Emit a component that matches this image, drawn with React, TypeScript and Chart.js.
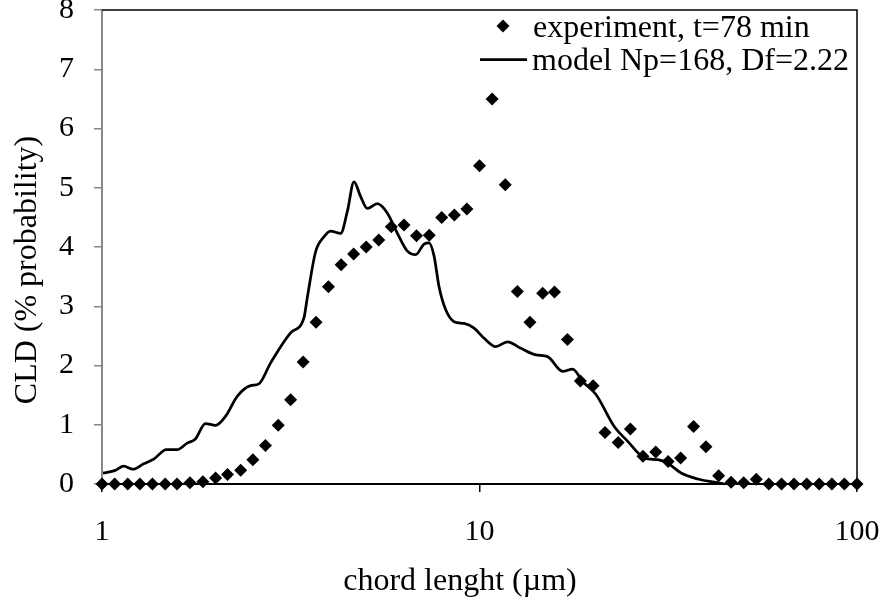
import React, { useEffect, useRef } from "react";
import { Chart, registerables } from "chart.js";

Chart.register(...registerables);

// Experiment (t = 78 min): chord length bins (µm) and CLD (% probability)
const expChord = [
  1.0, 1.08, 1.17, 1.26, 1.36, 1.47, 1.58, 1.71, 1.85, 2.0,
  2.15, 2.33, 2.51, 2.71, 2.93, 3.16, 3.41, 3.69, 3.98, 4.3,
  4.64, 5.01, 5.41, 5.84, 6.31, 6.81, 7.36, 7.94, 8.58, 9.26,
  10.0, 10.8, 11.7, 12.6, 13.6, 14.7, 15.8, 17.1, 18.5, 20.0,
  21.5, 23.3, 25.1, 27.1, 29.3, 31.6, 34.1, 36.9, 39.8, 43.0,
  46.4, 50.1, 54.1, 58.4, 63.1, 68.1, 73.6, 79.4, 85.8, 92.6, 100,
];
const expCLD = [
  0, 0, 0, 0, 0, 0, 0, 0.02, 0.04, 0.1,
  0.16, 0.23, 0.41, 0.65, 0.99, 1.42, 2.06, 2.73, 3.33, 3.7,
  3.88, 4.0, 4.12, 4.34, 4.37, 4.19, 4.2, 4.5, 4.54, 4.64,
  5.37, 6.5, 5.05, 3.25, 2.73, 3.22, 3.24, 2.44, 1.74, 1.66,
  0.87, 0.7, 0.93, 0.47, 0.54, 0.38, 0.44, 0.97, 0.63, 0.14,
  0.03, 0.02, 0.08, 0, 0, 0, 0, 0, 0, 0, 0,
];

// Model (Np = 168, Df = 2.22)
const modelChord = [
  1.006, 1.085, 1.141, 1.208, 1.289, 1.371, 1.481, 1.581, 1.681, 1.768,
  1.879, 1.998, 2.123, 2.281, 2.474, 2.603, 2.795, 3.159, 3.426, 3.499,
  3.68, 3.87, 4.033, 4.287, 4.466, 4.65, 4.844, 5.046, 5.364, 5.702,
  6.061, 6.442, 6.776, 7.131, 7.35, 7.578, 7.813, 8.139, 8.563, 9.102,
  9.676, 10.285, 11.046, 11.866, 12.872, 14.105, 15.15, 16.61, 17.65, 18.76,
  20.35, 22.75, 24.7, 27.33, 29.66, 31.53, 34.2, 37.86, 41.91, 44.56,
];
const modelCLD = [
  0.185, 0.23, 0.3, 0.25, 0.34, 0.42, 0.58, 0.58, 0.69, 0.76,
  1.02, 0.99, 1.14, 1.48, 1.66, 1.69, 2.04, 2.55, 2.8, 3.15,
  3.92, 4.17, 4.27, 4.23, 4.6, 5.1, 4.85, 4.65, 4.73, 4.57,
  4.23, 3.93, 3.87, 4.05, 4.07, 3.85, 3.33, 2.94, 2.74, 2.71,
  2.63, 2.46, 2.32, 2.4, 2.29, 2.18, 2.15, 1.9, 1.94, 1.73,
  1.51, 0.97, 0.72, 0.44, 0.41, 0.35, 0.185, 0.085, 0.03, 0.0,
];

const xTickValues = [1, 10, 100];
const expLabel = "experiment, t=78 min";
const modelLabel = "model Np=168, Df=2.22";
const xTitle = "chord lenght (\u00b5m)";
const yTitle = "CLD (% probability)";

const SERIF = "'Liberation Serif', 'Times New Roman', serif";

export default function App() {
  const canvasRef = useRef<HTMLCanvasElement | null>(null);

  useEffect(() => {
    const canvas = canvasRef.current;
    if (!canvas) return;

    const decorPlugin = {
      id: "decor",
      afterDraw(chart: any) {
        const { ctx, chartArea } = chart;
        ctx.save();
        // top & right frame
        ctx.strokeStyle = "#000";
        ctx.lineWidth = 1.5;
        ctx.beginPath();
        ctx.moveTo(chartArea.left, chartArea.top);
        ctx.lineTo(chartArea.right, chartArea.top);
        ctx.lineTo(chartArea.right, chartArea.bottom);
        ctx.stroke();

        // axis titles
        ctx.fillStyle = "#000";
        ctx.font = `32px ${SERIF}`;
        ctx.textAlign = "center";
        ctx.textBaseline = "alphabetic";
        ctx.fillText(xTitle, 460, 590);
        ctx.save();
        ctx.translate(36, 270);
        ctx.rotate(-Math.PI / 2);
        ctx.fillText(yTitle, 0, 0);
        ctx.restore();

        // legend
        ctx.font = `32px ${SERIF}`;
        ctx.textAlign = "left";
        ctx.fillText(expLabel, 533, 37);
        ctx.fillText(modelLabel, 532, 70);
        const s = 6.5;
        ctx.beginPath();
        ctx.moveTo(503, 26 - s);
        ctx.lineTo(503 + s, 26);
        ctx.lineTo(503, 26 + s);
        ctx.lineTo(503 - s, 26);
        ctx.closePath();
        ctx.fill();
        ctx.lineWidth = 2.75;
        ctx.beginPath();
        ctx.moveTo(480, 59.5);
        ctx.lineTo(527, 59.5);
        ctx.stroke();
        ctx.restore();
      },
    };

    const chart = new Chart(canvas, {
      type: "scatter",
      data: {
        datasets: [
          {
            label: expLabel,
            data: expChord.map((x, i) => ({ x, y: expCLD[i] })),
            pointStyle: "rectRot",
            pointRadius: 6.5,
            pointHoverRadius: 6.5,
            backgroundColor: "#000",
            borderColor: "#000",
            borderWidth: 0,
            showLine: false,
            clip: false,
          },
          {
            type: "line",
            label: modelLabel,
            data: modelChord.map((x, i) => ({ x, y: modelCLD[i] })),
            borderColor: "#000",
            borderWidth: 2.75,
            pointRadius: 0,
            fill: false,
            cubicInterpolationMode: "monotone",
            clip: false,
          },
        ],
      } as any,
      options: {
        responsive: true,
        maintainAspectRatio: false,
        animation: false,
        layout: { padding: { top: 10, right: 28, left: 0, bottom: 0 } },
        plugins: {
          legend: { display: false },
          tooltip: { enabled: false },
        },
        scales: {
          x: {
            type: "logarithmic",
            min: 1,
            max: 100,
            afterBuildTicks: (scale: any) => {
              scale.ticks = xTickValues.map((v) => ({ value: v }));
            },
            afterFit: (scale: any) => {
              scale.height = 119;
              scale.paddingLeft = 0;
              scale.paddingRight = 0;
            },
            ticks: {
              callback: (v: any) => String(v),
              color: "#000",
              font: { family: SERIF, size: 30 },
              padding: 22,
              maxRotation: 0,
              autoSkip: false,
            },
            grid: {
              drawOnChartArea: false,
              drawTicks: true,
              tickLength: 8,
              color: "#000",
              lineWidth: 1.5,
            },
            border: { color: "#000", width: 2 },
          },
          y: {
            type: "linear",
            min: 0,
            max: 8,
            afterFit: (scale: any) => {
              scale.width = 102;
              scale.paddingTop = 0;
              scale.paddingBottom = 0;
            },
            ticks: {
              stepSize: 1,
              color: "#000",
              font: { family: SERIF, size: 30 },
              padding: 20,
            },
            grid: {
              drawOnChartArea: false,
              drawTicks: true,
              tickLength: 8,
              color: "#888",
              lineWidth: 1.5,
            },
            border: { color: "#888", width: 2 },
          },
        },
      } as any,
      plugins: [decorPlugin],
    });

    return () => chart.destroy();
  }, []);

  return (
    <div style={{ position: "fixed", left: 0, top: 0, width: 885, height: 603, background: "#fff" }}>
      <canvas ref={canvasRef} style={{ display: "block" }} />
    </div>
  );
}
